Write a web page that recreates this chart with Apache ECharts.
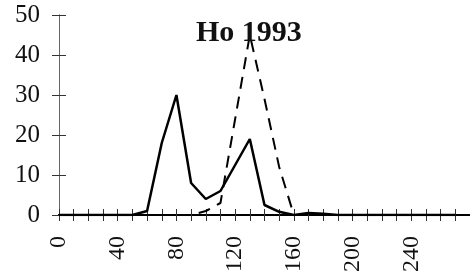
<!DOCTYPE html>
<html><head><meta charset="utf-8">
<script src="https://cdn.jsdelivr.net/npm/echarts@6/dist/echarts.min.js"></script>
<style>html,body{margin:0;padding:0;background:#fff}#c{width:470px;height:280px}</style>
</head><body><div id="c"></div>
<script>
const titleText = "Ho 1993";
const xValues = [0,10,20,30,40,50,60,70,80,90,100,110,120,130,140,150,160,170,180,190,200,210,220,230,240,250,260,270];
const solidValues = [0,0,0,0,0,0,1,18,30,8,4,6,12.5,19,2.5,0.8,0,0.5,0.3,0,0,0,0,0,0,0,0,0];
const dashedValues = [0,0,0,0,0,0,0,0,0,0,1,3,24,45,29,12,0,0,0,0,0,0,0,0,0,0,0,0];
const yTicks = [0,10,20,30,40,50];
const xLabelStep = 40;

const font = "'Liberation Serif','DejaVu Serif',serif";
const chart = echarts.init(document.getElementById('c'));
const pair = (vals) => xValues.map((x,i)=>[x, vals[i]]);
const xAxisBase = {
  type:'value', min:0, max:280, interval:xLabelStep,
  axisLine:{show:true, onZero:false, lineStyle:{color:'#000', width:2}},
  splitLine:{show:false},
  minorTick:{show:true, splitNumber:4, length:6, lineStyle:{color:'#333', width:1}},
  axisTick:{show:true, length:6, lineStyle:{color:'#333', width:1}},
};
const yAxisBase = {
  type:'value', min:yTicks[0], max:yTicks[yTicks.length-1], interval:10,
  axisLine:{show:true, onZero:false, lineStyle:{color:'#666', width:1}},
  splitLine:{show:false},
};
chart.setOption({
  animation:false,
  title:{text:titleText, left:191, top:13, textStyle:{fontFamily:font, fontWeight:'bold', fontSize:30, color:'#111'}},
  grid:[
    {left:59, right:-16, top:15, bottom:65, containLabel:false},
    {left:59, width:100, top:15, bottom:65, containLabel:false}
  ],
  xAxis:[
    Object.assign({}, xAxisBase, {gridIndex:0, position:'bottom', axisTick:Object.assign({}, xAxisBase.axisTick,{inside:false}),
      minorTick:Object.assign({}, xAxisBase.minorTick),
      axisLabel:{show:true, rotate:90, margin:21, fontFamily:font, fontSize:24, color:'#111',
        formatter:(v)=> (v%xLabelStep===0 && v<=240) ? String(v) : ''}}),
    Object.assign({}, xAxisBase, {gridIndex:0, position:'bottom', axisTick:Object.assign({}, xAxisBase.axisTick,{inside:true}),
      minorTick:Object.assign({}, xAxisBase.minorTick),
      axisLabel:{show:false}}),
    {type:'value', gridIndex:1, show:false, min:0, max:1}
  ],
  yAxis:[
    Object.assign({}, yAxisBase, {gridIndex:0, position:'left', axisTick:{show:true, length:7, lineStyle:{color:'#333'}},
      axisLabel:{show:true, margin:19, fontFamily:font, fontSize:25, color:'#111'}}),
    Object.assign({}, yAxisBase, {gridIndex:1, position:'left', axisTick:{show:true, inside:true, length:7, lineStyle:{color:'#333'}},
      axisLabel:{show:false}})
  ],
  series:[
    {type:'line', xAxisIndex:0, yAxisIndex:0, data:pair(solidValues), symbol:'none', lineStyle:{color:'#000', width:2.5}, z:3},
    {type:'line', xAxisIndex:0, yAxisIndex:0, data:pair(dashedValues), symbol:'none', lineStyle:{color:'#000', width:2, type:[12,8]}, z:3}
  ]
});
</script></body></html>
